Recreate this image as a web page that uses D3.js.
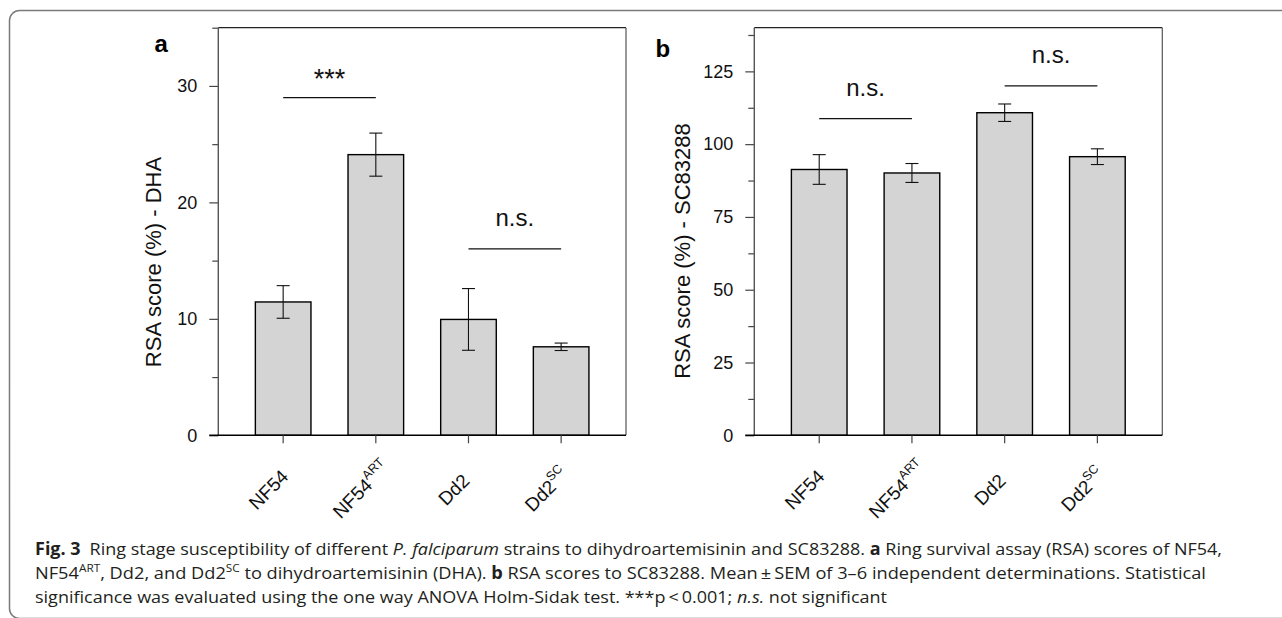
<!DOCTYPE html>
<html>
<head>
<meta charset="utf-8">
<script src="https://cdn.jsdelivr.net/npm/d3@7"></script>
<style>
  html, body { margin: 0; padding: 0; background: #fff; }
  svg { display: block; }
</style>
</head>
<body>
<div id="chart"></div>
<script>
// strains (base name + superscript part)
var strainBase = ["NF54", "NF54", "Dd2", "Dd2"];
var strainSup = ["", "ART", "", "SC"];

// panel a: RSA score (%) to DHA, mean and SEM
var dhaMean = [11.45, 24.1, 9.95, 7.6];
var dhaSem = [1.4, 1.85, 2.65, 0.32];
var dhaTicks = [0, 10, 20, 30];
var dhaMinor = [5, 15, 25, 35];

// panel b: RSA score (%) to SC83288
var scMean = [91.3, 90.1, 110.8, 95.7];
var scSem = [5.1, 3.25, 3.0, 2.7];
var scTicks = [0, 25, 50, 75, 100, 125];
var scMinor = [12.5, 37.5, 62.5, 87.5, 112.5, 137.5];

// significance brackets: from bar, to bar, height, label
var dhaSig = [[0, 1, 29, "***"], [2, 3, 16, "n.s."]];
var scSig = [[0, 1, 108.8, "n.s."], [2, 3, 120, "n.s."]];

var W = 1282, H = 618;
var svg = d3.select("#chart").append("svg").attr("width", W).attr("height", H);
var font = "'Liberation Sans', Arial, sans-serif";

// outer frame of the figure
svg.append("rect").attr("x", 9.5).attr("y", 10.5).attr("width", 1400).attr("height", 608)
  .attr("rx", 10).attr("fill", "none").attr("stroke", "#7a7a7a").attr("stroke-width", 1.5);

function panel(opts) {
  var g = svg.append("g");
  var top = 27.7, bottom = 435.3;
  var x = d3.scaleBand().domain(d3.range(opts.mean.length)).range([opts.left, opts.right])
    .paddingInner(0.4).paddingOuter(0.4);
  var y = d3.scaleLinear().domain(opts.domain).range([bottom, top]);

  // frame: top and right
  g.append("line").attr("x1", opts.left).attr("x2", opts.right).attr("y1", top).attr("y2", top)
    .attr("stroke", "#222").attr("stroke-width", 1.2);
  g.append("line").attr("x1", opts.right).attr("x2", opts.right).attr("y1", top).attr("y2", bottom)
    .attr("stroke", "#555").attr("stroke-width", 1.2);

  // y axis major + minor
  var ya = g.append("g").attr("transform", "translate(" + opts.left + ",0)")
    .call(d3.axisLeft(y).tickValues(opts.ticks).tickSize(9).tickPadding(12).tickSizeOuter(0));
  ya.select(".domain").remove();
  ya.selectAll(".tick line").attr("stroke", "#444").attr("stroke-width", 1.2);
  ya.selectAll(".tick text").attr("font-family", font).attr("font-size", 18).attr("fill", "#111");
  var ym = g.append("g").attr("transform", "translate(" + opts.left + ",0)")
    .call(d3.axisLeft(y).tickValues(opts.minor).tickSize(6).tickFormat("").tickSizeOuter(0));
  ym.select(".domain").remove();
  ym.selectAll(".tick line").attr("stroke", "#444").attr("stroke-width", 1.2);
  g.append("line").attr("x1", opts.left).attr("x2", opts.left).attr("y1", top).attr("y2", bottom)
    .attr("stroke", "#555").attr("stroke-width", 1.4);

  // y title
  g.append("text").attr("transform", "translate(" + opts.titleX + "," + opts.titleY + ") rotate(-90)")
    .attr("text-anchor", "middle").attr("font-family", font).attr("font-size", 22).attr("fill", "#111")
    .text(opts.title);

  // bars
  g.selectAll("rect.bar").data(opts.mean).join("rect").attr("class", "bar")
    .attr("x", function(d, i) { return x(i); })
    .attr("y", function(d) { return y(d); })
    .attr("width", x.bandwidth())
    .attr("height", function(d) { return y(0) - y(d); })
    .attr("fill", "#d3d4d3").attr("stroke", "#000").attr("stroke-width", 1.4);

  // error bars
  var cx = function(i) { return x(i) + x.bandwidth() / 2; };
  var eb = g.selectAll("g.err").data(opts.mean).join("g").attr("class", "err")
    .attr("stroke", "#111").attr("stroke-width", 1.1);
  eb.append("line").attr("x1", function(d, i) { return cx(i); }).attr("x2", function(d, i) { return cx(i); })
    .attr("y1", function(d, i) { return y(d + opts.sem[i]); }).attr("y2", function(d, i) { return y(d - opts.sem[i]); });
  [1, -1].forEach(function(s) {
    eb.append("line").attr("x1", function(d, i) { return cx(i) - 6.5; }).attr("x2", function(d, i) { return cx(i) + 6.5; })
      .attr("y1", function(d, i) { return y(d + s * opts.sem[i]); }).attr("y2", function(d, i) { return y(d + s * opts.sem[i]); });
  });

  // x axis
  g.append("line").attr("x1", opts.left - 9).attr("x2", opts.right).attr("y1", bottom).attr("y2", bottom)
    .attr("stroke", "#000").attr("stroke-width", 1.4);
  var xa = g.append("g").attr("transform", "translate(0," + bottom + ")")
    .call(d3.axisBottom(x).tickSize(8).tickFormat("").tickSizeOuter(0));
  xa.select(".domain").remove();
  xa.selectAll(".tick line").attr("stroke", "#444").attr("stroke-width", 1.2);

  // rotated category labels, centred below each tick
  var lab = g.selectAll("text.xl").data(strainBase).join("text").attr("class", "xl")
    .attr("transform", function(d, i) { return "translate(" + (cx(i) - 10) + "," + (bottom + 59) + ") rotate(-45)"; })
    .attr("text-anchor", "middle").attr("font-family", font).attr("fill", "#111");
  lab.append("tspan").attr("font-size", 19).text(function(d) { return d; });
  lab.append("tspan").attr("font-size", 12.5).attr("dy", -9).text(function(d, i) { return strainSup[i]; });

  // significance
  opts.sig.forEach(function(s) {
    var x1 = cx(s[0]), x2 = cx(s[1]), yy = y(s[2]);
    g.append("line").attr("x1", x1).attr("x2", x2).attr("y1", yy).attr("y2", yy)
      .attr("stroke", "#111").attr("stroke-width", 1.2);
    var star = s[3] === "***";
    g.append("text").attr("x", (x1 + x2) / 2).attr("y", yy - (star ? 10 : 23))
      .attr("text-anchor", "middle").attr("font-family", font).attr("font-size", star ? 27 : 24)
      .attr("fill", "#111").text(s[3]);
  });

  // panel letter
  g.append("text").attr("x", opts.letterX).attr("y", opts.letterY).attr("font-family", font)
    .attr("font-weight", "bold").attr("font-size", 24).attr("fill", "#000").text(opts.letter);
}

panel({ left: 218.3, right: 626, domain: [0, 35], mean: dhaMean, sem: dhaSem, ticks: dhaTicks, minor: dhaMinor,
  sig: dhaSig, title: "RSA score (%) - DHA", titleX: 161, titleY: 262, letter: "a", letterX: 154.5, letterY: 52 });
panel({ left: 754.3, right: 1162.3, domain: [0, 140], mean: scMean, sem: scSem, ticks: scTicks, minor: scMinor,
  sig: scSig, title: "RSA score (%) - SC83288", titleX: 690, titleY: 251, letter: "b", letterX: 655.5, letterY: 56.5 });

// caption
var cap = svg.append("g").attr("font-family", "'Open Sans', 'Noto Sans', sans-serif").attr("font-size", 17)
  .attr("fill", "#231f20");
var lines = [
  { y: 555, len: 1187, parts: [["Fig. 3", "b"], ["\u2002Ring stage susceptibility of different ", ""], ["P. falciparum", "i"],
    [" strains to dihydroartemisinin and SC83288. ", ""], ["a", "b"], [" Ring survival assay (RSA) scores of NF54,", ""]] },
  { y: 579, len: 1171, parts: [["NF54", ""], ["ART", "sup"], [", Dd2, and Dd2", "down"], ["SC", "sup"],
    [" to dihydroartemisinin (DHA). ", "down"], ["b", "b"], [" RSA scores to SC83288. Mean\u2009\u00b1\u2009SEM of 3\u20136 independent determinations. Statistical", ""]] },
  { y: 603, len: 852, parts: [["significance was evaluated using the one way ANOVA Holm-Sidak test. ***p\u2009<\u20090.001; ", ""], ["n.s.", "i"], [" not significant", ""]] }
];
lines.forEach(function(l) {
  var t = cap.append("text").attr("x", 35).attr("y", l.y).attr("textLength", l.len).attr("lengthAdjust", "spacingAndGlyphs");
  l.parts.forEach(function(p) {
    var s = t.append("tspan").text(p[0]);
    if (p[1] === "b") s.attr("font-weight", "bold");
    if (p[1] === "i") s.attr("font-style", "italic");
    if (p[1] === "sup") s.attr("font-size", 11).attr("dy", -7);
    if (p[1] === "down") s.attr("dy", 7);
  });
});
</script>
</body>
</html>
